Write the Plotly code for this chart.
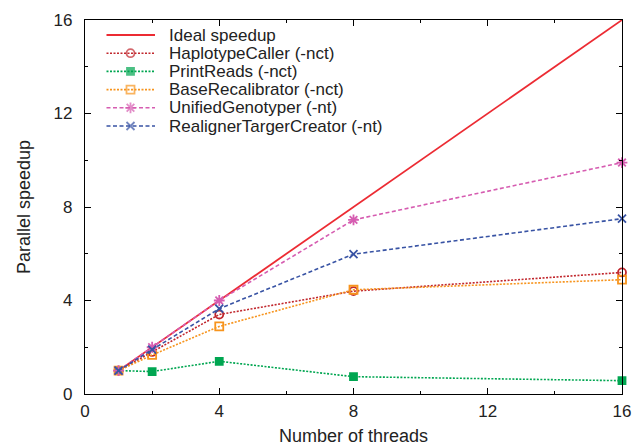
import plotly.graph_objects as go

threads = [1, 2, 4, 8, 16]
ideal = [1, 2, 4, 8, 16]
haplotype = [1.0, 1.8, 3.4, 4.4, 5.2]
printreads = [1.0, 0.96, 1.4, 0.74, 0.57]
baserecal = [1.0, 1.67, 2.89, 4.46, 4.89]
unified = [1.0, 2.0, 4.0, 7.45, 9.9]
realigner = [1.0, 1.9, 3.65, 5.98, 7.5]

names = ["Ideal speedup", "HaplotypeCaller (-nct)", "PrintReads (-nct)",
         "BaseRecalibrator (-nct)", "UnifiedGenotyper (-nt)", "RealignerTargerCreator (-nt)"]
colors = ["#ec2b33", "#c1272d", "#00a651", "#f7941d", "#d65db1", "#3853a4"]
dashes = ["solid", "2px,1.5px", "2px,1.5px", "2px,1.5px", "4px,2.5px", "4px,2.5px"]
symbols = ["circle", "circle-open", "square", "square-open", "asterisk-open", "x-thin-open"]
msizes = [0, 8, 7, 8, 9, 8]
series = [ideal, haplotype, printreads, baserecal, unified, realigner]

FONT = "Liberation Sans, Arial, Helvetica, sans-serif"
TXT = "#222222"

W, H = 632, 446
ML, MR, MT, MB = 85, 10, 20, 52
PW, PH = W - ML - MR, H - MT - MB

fig = go.Figure()
for name, ys, c, d, s, ms in zip(names, series, colors, dashes, symbols, msizes):
    fig.add_trace(go.Scatter(
        x=threads, y=ys, name=name,
        mode="lines" if ms == 0 else "lines+markers",
        line=dict(color=c, width=1.6 if ms else 1.8, dash=d),
        marker=dict(symbol=s, size=ms, color=c, line=dict(color=c, width=1.8)),
        cliponaxis=False, showlegend=False))

# manual legend (overlay pixel axes)
leg_x0, leg_xm, leg_x1, leg_tx = 21.5, 45.5, 70.0, 81.5
leg_y0, leg_dy = 15.0, 18.2
for i, (name, c, d, s, ms) in enumerate(zip(names, colors, dashes, symbols, msizes)):
    yy = leg_y0 + i * leg_dy
    fig.add_trace(go.Scatter(
        x=[leg_x0, leg_xm, leg_x1], y=[yy, yy, yy], xaxis="x2", yaxis="y2",
        mode="lines" if ms == 0 else "lines+markers",
        line=dict(color=c, width=1.6 if ms else 1.8, dash=d),
        marker=dict(symbol=s, size=[0, ms, 0], color=c, line=dict(color=c, width=1.8)),
        hoverinfo="skip", showlegend=False, cliponaxis=False))
    fig.add_annotation(x=leg_tx, y=yy, xref="x2", yref="y2", text=name,
                       showarrow=False, xanchor="left", yanchor="middle",
                       font=dict(family=FONT, size=17, color=TXT))

axis_common = dict(
    showgrid=False, zeroline=False, showline=True, linecolor="black", linewidth=1.2,
    mirror="allticks", ticks="inside", ticklen=6, tickcolor="black", tickwidth=1,
    tickfont=dict(family=FONT, size=17, color=TXT),
    minor=dict(ticks="inside", ticklen=3, tickcolor="black", dtick=2),
    dtick=4, tick0=0, automargin=False,
)

fig.update_layout(
    width=W, height=H,
    margin=dict(l=ML, r=MR, t=MT, b=MB),
    paper_bgcolor="white", plot_bgcolor="white",
    font=dict(family=FONT, size=17, color=TXT),
    xaxis=dict(range=[0, 16], ticklabelstandoff=1,
               title=dict(text="Number of threads", standoff=16,
                          font=dict(family=FONT, size=18, color=TXT)), **axis_common),
    yaxis=dict(range=[0, 16], ticklabelstandoff=8,
               title=dict(text="Parallel speedup", standoff=18,
                          font=dict(family=FONT, size=18, color=TXT)), **axis_common),
    xaxis2=dict(range=[0, PW], overlaying="x", anchor="y2", visible=False,
                fixedrange=True),
    yaxis2=dict(range=[PH, 0], overlaying="y", anchor="x2", visible=False,
                fixedrange=True),
    showlegend=False,
)

fig.write_html("out.html",
               config={"displayModeBar": False},
               post_script="document.body.style.margin='0';"
                           "document.body.style.overflow='hidden';")
